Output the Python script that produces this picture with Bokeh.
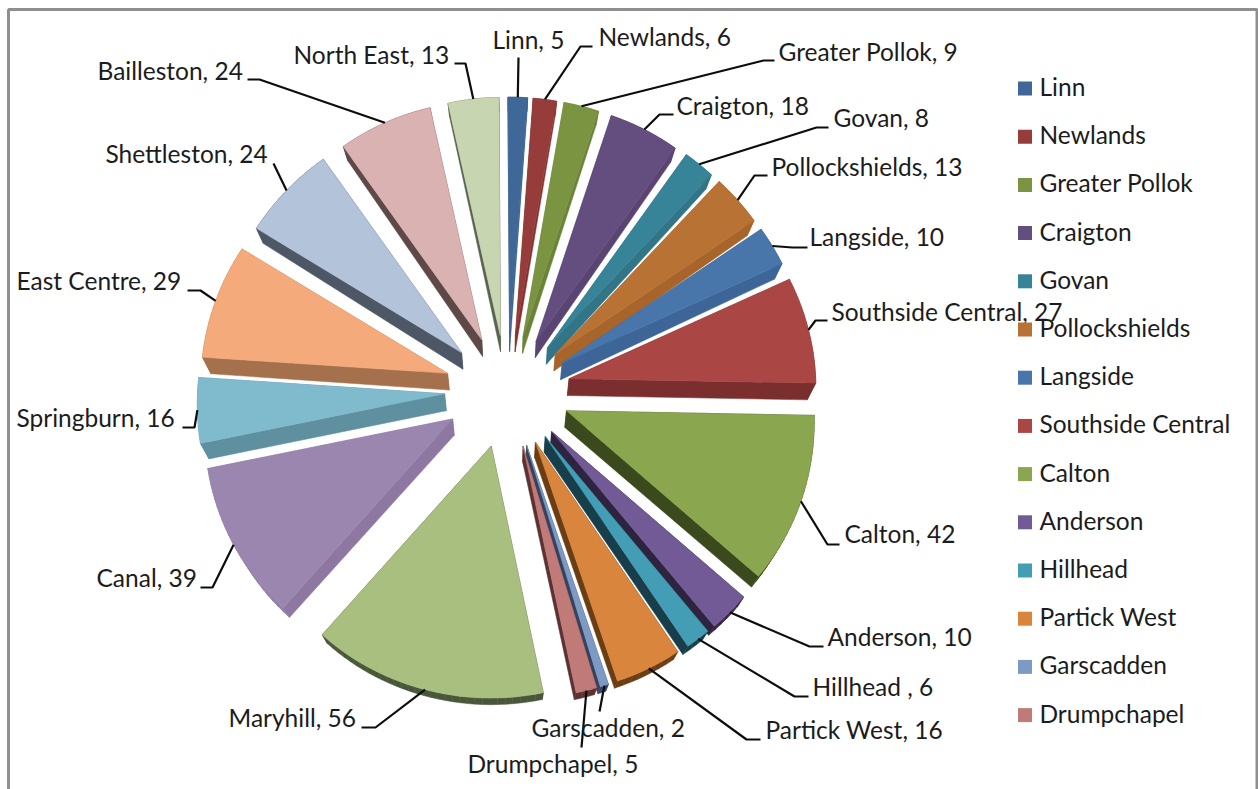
import math

from bokeh.core.properties import value
from bokeh.embed import file_html
from bokeh.models import ColumnDataSource, Range1d
from bokeh.plotting import figure
from bokeh.resources import INLINE

# Cases per Glasgow area, clockwise from twelve o'clock
areas = ["Linn", "Newlands", "Greater Pollok", "Craigton", "Govan", "Pollockshields",
         "Langside", "Southside Central", "Calton", "Anderson", "Hillhead ", "Partick West",
         "Garscadden", "Drumpchapel", "Maryhill", "Canal", "Springburn", "East Centre",
         "Shettleston", "Bailleston", "North East"]
counts = [5, 6, 9, 18, 8, 13, 10, 27, 42, 10, 6, 16, 2, 5, 56, 39, 16, 29, 24, 24, 13]

# Legend lists only the first fourteen areas
legend_count = 14

top_colors = ["#3f6797", "#963c3a", "#7a9442", "#644d7f", "#378397", "#b87334", "#4876ab",
              "#aa4644", "#8aa64f", "#725a96", "#429db5", "#d9853e", "#7d9ac5", "#c07a78",
              "#a9bf80", "#9a86ae", "#80bacd", "#f4aa7b", "#b3c3da", "#d9b2b1", "#c8d5b1"]
wall_colors = ["#365a86", "#85332f", "#6b8339", "#5a4472", "#317586", "#a7652c", "#3e6598",
               "#7a2f2e", "#3b4a1d", "#2f2440", "#173e4a", "#6a3d12", "#33435f", "#5b3232",
               "#48563a", "#8e78a2", "#5f90a0", "#a5714d", "#4d5765", "#5e4948", "#5a6350"]

# Label placement: left edge and vertical centre
label_x = [492, 598, 778, 676, 833, 771, 809, 831, 844, 827, 812, 765, 531, 467, 228, 96, 16, 16, 105, 97, 293]
label_y = [39, 36, 51, 105, 117, 166, 236, 311, 533, 636, 686, 729, 727, 763, 717, 577, 417, 280, 153, 70, 54]

# Leader lines run from the slice rim through these points to the label
leader_via = [
    [(518, 57)], [(580, 46), (592, 46)], [(763, 60), (774, 60)], [(659, 114), (673, 114)],
    [(816, 127), (828, 127)], [(754, 175), (767, 175)], [(792, 247), (807, 247)],
    [(815, 320), (827, 320)], [(827, 544), (839, 544)], [(809, 646), (823, 646)],
    [(794, 696), (808, 696)], [(746, 739), (760, 739)], [(599, 711)], [(581, 747)],
    [(375, 727), (361, 727)], [(212, 587), (200, 587)], [(194, 427), (182, 427)],
    [(200, 290), (187, 290)], [(273, 163)], [(259, 79), (247, 79)], [(465, 63), (454, 63)],
]

WIDTH, HEIGHT = 1258, 789
CX, CY = 507.0, 389.5
RADIUS_X, RADIUS_Y = 247.0, 252.0
EXPLODE_X, EXPLODE_Y = 63.0, 58.0
FIRST_ANGLE = math.radians(-0.4)
FONT = "Lato"
FONT_SIZE = "24.5px"


def tilt(x, y):
    """Perspective of the tilted pie: the far half is squeezed and narrower."""
    wide_x = CX + (x - CX) * (1 + 1.26e-4 * (y - CY))
    tall_y = CY + (y - CY) * (0.945 if y < CY else 1.0)
    return wide_x, tall_y


def extrude(x, y):
    """Lower-face position of a point on the pie's top face."""
    drop = 17 - 0.035 * max(0.0, y - 400) - 0.01 * max(0.0, 400 - y)
    return x + (CX - x) * 0.028, y + drop


total = sum(counts)
slices = []
running = 0
for i, count in enumerate(counts):
    start = FIRST_ANGLE + running / total * 2 * math.pi
    running += count
    end = FIRST_ANGLE + running / total * 2 * math.pi
    mid = (start + end) / 2
    ax = CX + EXPLODE_X * math.sin(mid)
    ay = CY - EXPLODE_Y * math.cos(mid)
    steps = max(3, int((end - start) / 0.03))
    rim = [(ax + RADIUS_X * math.sin(start + (end - start) * k / steps),
            ay - RADIUS_Y * math.cos(start + (end - start) * k / steps)) for k in range(steps + 1)]
    outline = [tilt(x, y) for x, y in [(ax, ay)] + rim]
    anchor = tilt(ax + RADIUS_X * math.sin(mid), ay - RADIUS_Y * math.cos(mid))
    slices.append(dict(index=i, mid=mid, outline=outline, anchor=anchor))

p = figure(width=WIDTH, height=HEIGHT, output_backend="svg", toolbar_location=None,
           x_range=Range1d(0, WIDTH), y_range=Range1d(HEIGHT, 0),
           min_border=0, outline_line_color=None, background_fill_color="white",
           border_fill_color="white")
p.axis.visible = False
p.grid.visible = False

# Chart frame, open at the bottom
p.line([8, 8, 1256.5, 1256.5], [HEIGHT, 9, 9, HEIGHT], line_color="#8f8f8f", line_width=3)

# Slices are painted from the back of the pie to the front
for s in sorted(slices, key=lambda item: -math.cos(item["mid"])):
    pts = s["outline"]
    low = [extrude(x, y) for x, y in pts]
    wall_xs, wall_ys = [], []
    for k in range(len(pts)):
        n = (k + 1) % len(pts)
        wall_xs.append([pts[k][0], pts[n][0], low[n][0], low[k][0]])
        wall_ys.append([pts[k][1], pts[n][1], low[n][1], low[k][1]])
    wall = wall_colors[s["index"]]
    p.patches(wall_xs, wall_ys, fill_color=wall, line_color=wall, line_width=0.5)
    p.patch([q[0] for q in pts], [q[1] for q in pts], fill_color=top_colors[s["index"]],
            line_color=top_colors[s["index"]], line_width=0.5)

# Leader lines
for s in slices:
    via = leader_via[s["index"]]
    p.line([s["anchor"][0]] + [q[0] for q in via], [s["anchor"][1]] + [q[1] for q in via],
           line_color="#0d0d0d", line_width=2.2)

# Data labels
labels = ColumnDataSource(dict(x=label_x, y=label_y,
                               text=[f"{a}, {c}" for a, c in zip(areas, counts)]))
p.text("x", "y", text="text", source=labels, text_font=value(FONT), text_font_size=value(FONT_SIZE),
       text_baseline="middle", text_align="left", text_color="#1c1c1c")

# Legend
row_y = [88 + i * 48.2 for i in range(legend_count)]
p.rect([1024.5] * legend_count, row_y, width=14, height=14, fill_color=top_colors[:legend_count],
       line_color=None)
p.text([1039] * legend_count, [y - 2 for y in row_y], text=areas[:legend_count], text_font=value(FONT),
       text_font_size=value(FONT_SIZE), text_baseline="middle", text_align="left", text_color="#1c1c1c")

open("out.html", "w").write(file_html(p, INLINE))
